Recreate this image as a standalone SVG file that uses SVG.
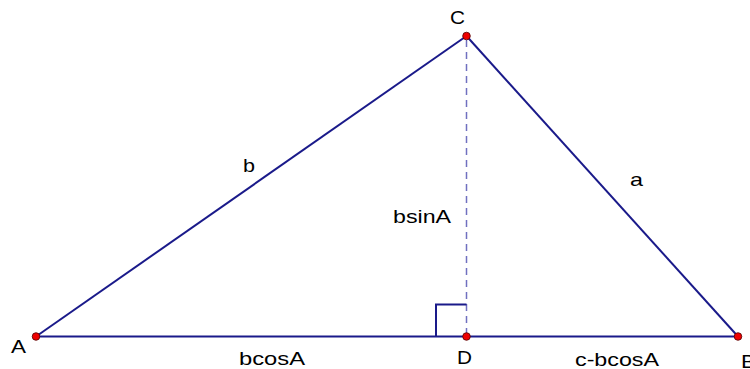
<svg xmlns="http://www.w3.org/2000/svg" width="750" height="369" viewBox="0 0 750 369">
<style>
.edge{stroke:#1a1a8a;stroke-width:2;fill:none}
.dash{stroke:#7070c0;stroke-width:1.5;stroke-dasharray:7 5;fill:none}
.pt{fill:#ee0000;stroke:#500000;stroke-width:0.8}
text{font-family:"Liberation Sans",Arial,sans-serif;font-size:19px;fill:#000}
</style>
<rect width="750" height="369" fill="#fff"/>
<g id="connectors">
<line class="edge" x1="36" y1="336.5" x2="738" y2="336.5"/>
<line class="edge" x1="36" y1="336.5" x2="466.5" y2="36"/>
<line class="edge" x1="466.5" y1="36" x2="738" y2="336.5"/>
<line class="dash" x1="466.5" y1="40" x2="466.5" y2="336"/>
<polyline class="edge" points="436,336.5 436,304.5 466.5,304.5"/>
</g>
<g id="A"><circle class="pt" cx="36" cy="336.5" r="3.8"/><text x="11" y="353" textLength="15" lengthAdjust="spacingAndGlyphs">A</text></g>
<g id="C"><circle class="pt" cx="466.5" cy="36" r="3.8"/><text x="450" y="24" textLength="15" lengthAdjust="spacingAndGlyphs">C</text></g>
<g id="D"><circle class="pt" cx="466.5" cy="336.5" r="3.8"/><text x="457" y="364" textLength="15" lengthAdjust="spacingAndGlyphs">D</text></g>
<g id="B"><circle class="pt" cx="738" cy="336.5" r="3.8"/><text x="741" y="368" textLength="15" lengthAdjust="spacingAndGlyphs">B</text></g>
<g id="labels">
<text x="243" y="172" textLength="12" lengthAdjust="spacingAndGlyphs">b</text>
<text x="630" y="186" textLength="13" lengthAdjust="spacingAndGlyphs">a</text>
<text x="393" y="223" textLength="58" lengthAdjust="spacingAndGlyphs">bsinA</text>
<text x="239" y="365" textLength="66" lengthAdjust="spacingAndGlyphs">bcosA</text>
<text x="575" y="366" textLength="84" lengthAdjust="spacingAndGlyphs">c-bcosA</text>
</g>
</svg>
